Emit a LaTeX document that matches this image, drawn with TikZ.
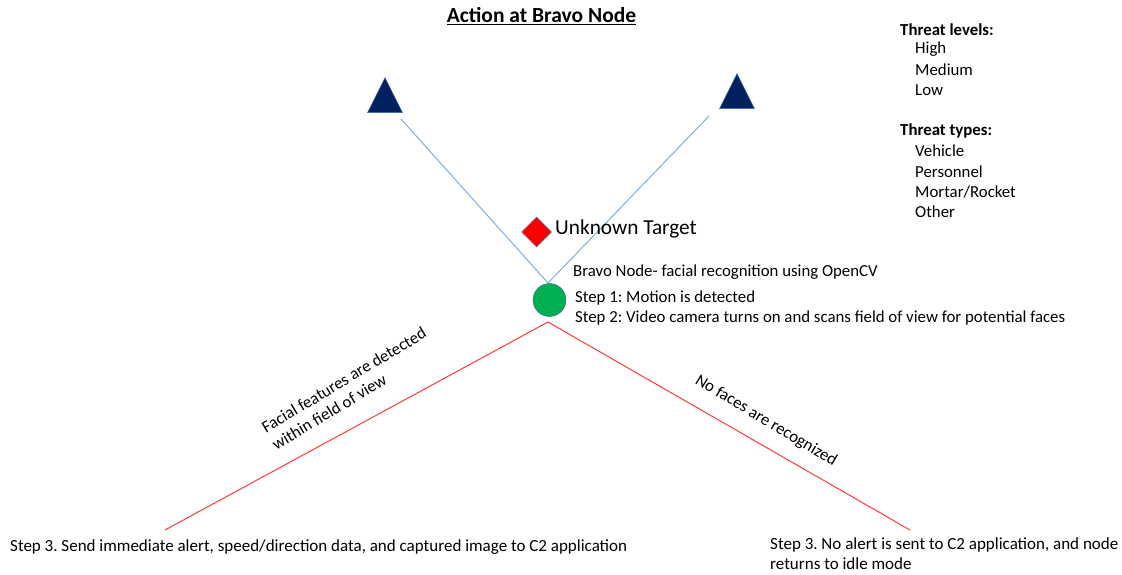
\documentclass[tikz,border=0pt]{standalone}
\usepackage{fontspec}
\setmainfont{Carlito}
\frenchspacing
\usetikzlibrary{shapes.geometric}
\definecolor{navy}{HTML}{002060}
\definecolor{skyline}{HTML}{7FAEDC}
\definecolor{redline}{HTML}{FF3B3B}
\definecolor{nodegreen}{HTML}{00B050}
\definecolor{outl}{HTML}{41719C}
\tikzset{
  lbl/.style={inner sep=0pt, anchor=west, font=\fontsize{16.8}{20}\selectfont},
  listhead/.style={inner sep=0pt, anchor=west, font=\fontsize{16.8}{20}\selectfont\bfseries},
  sensor/.style={isosceles triangle, isosceles triangle stretches, shape border rotate=90, fill=navy, draw=outl, line width=0.5pt, minimum width=35pt, minimum height=35pt, inner sep=0pt, anchor=lower side},
  blueline/.style={draw=skyline, line width=1pt},
  redl/.style={draw=redline, line width=1pt},
}
\begin{document}
\begin{tikzpicture}[x=1pt,y=-1pt]
\useasboundingbox[fill=white] (0,0) rectangle (1122,575);
% title
\node[inner sep=0pt, font=\fontsize{21.5}{24}\selectfont\bfseries] (title) at (541.5,16) {\underline{Action at Bravo Node}};
% threat lists
\node[listhead] (tl) at (900,30) {Threat levels:};
\node[lbl] (h) at (915,49.5) {High};
\node[lbl] (m) at (915,70) {Medium};
\node[lbl] (l) at (915,90.5) {Low};
\node[listhead] (tt) at (900,131) {Threat types:};
\node[lbl] (v) at (915,151) {Vehicle};
\node[lbl] (p) at (915,171.5) {Personnel};
\node[lbl] (mr) at (915,192) {Mortar/Rocket};
\node[lbl] (o) at (915,212) {Other};
% sensors
\node[sensor] (s1) at (385,113) {};
\node[sensor] (s2) at (737,109) {};
\coordinate (s1e) at (401,119);
\coordinate (s2e) at (709,116);
% bravo node
\node[circle, fill=nodegreen, draw=outl, line width=0.5pt, minimum size=33pt, inner sep=0pt] (bravo) at (549.5,300) {};
\coordinate (top) at (548,283);
\coordinate (bot) at (548,322);
\draw[blueline] (s1e) -- (top);
\draw[blueline] (s2e) -- (top);
% target
\node[diamond, fill=red, draw=outl, line width=0.5pt, minimum size=30pt, inner sep=0pt] (target) at (536.5,232) {};
\node[inner sep=0pt, anchor=west, font=\fontsize{21.3}{24}\selectfont] (tlabel) at (555,229) {Unknown Target};
% node texts
\node[lbl] (bn) at (573,272) {Bravo Node- facial recognition using OpenCV};
\node[lbl] (st1) at (575,298) {Step 1: Motion is detected};
\node[lbl] (st2) at (575,318) {Step 2: Video camera turns on and scans field of view for potential faces};
% red branches
\coordinate (lend) at (165,530);
\coordinate (rend) at (910,530);
\draw[redl] (bot) -- (lend);
\draw[redl] (bot) -- (rend);
\node[inner sep=0pt, rotate=31, align=left, font=\fontsize{16.8}{20}\selectfont] (ff) at (349,388.5) {Facial features are detected\\within field of view};
\node[inner sep=0pt, rotate=-31, font=\fontsize{16.8}{20}\selectfont] (nf) at (766,421) {No faces are recognized};
% bottom texts
\node[inner sep=0pt, anchor=west, font=\fontsize{17}{20}\selectfont] (b1) at (10,547) {Step 3. Send immediate alert, speed/direction data, and captured image to C2 application};
\node[inner sep=0pt, anchor=north west, align=left, font=\fontsize{17}{20}\selectfont] (b2) at (770,537) {Step 3. No alert is sent to C2 application, and node\\returns to idle mode};
\end{tikzpicture}
\end{document}
